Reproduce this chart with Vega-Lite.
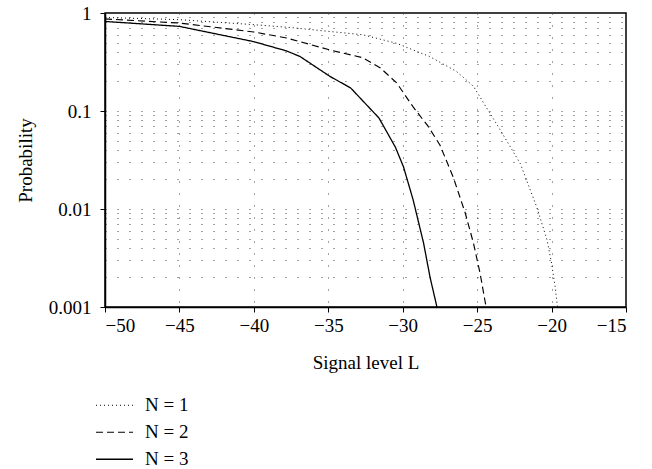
{
  "$schema": "https://vega.github.io/schema/vega-lite/v6.json",
  "width": 521,
  "height": 294,
  "autosize": {"type": "none"},
  "padding": {"left": 105, "top": 13, "right": 26, "bottom": 162},
  "config": {
    "font": "Liberation Serif",
    "view": {"stroke": "black", "strokeWidth": 1.5},
    "axis": {
      "domainColor": "black",
      "domainWidth": 1.5,
      "tickColor": "black",
      "tickSize": 5,
      "tickWidth": 1,
      "labelColor": "black",
      "labelFontSize": 19,
      "labelFont": "Liberation Serif",
      "titleFont": "Liberation Serif",
      "titleFontSize": 19,
      "titleFontWeight": "normal",
      "titleColor": "black",
      "gridColor": "#444",
      "gridDash": [1, 11],
      "gridWidth": 1,
      "gridOpacity": 1
    },
    "legend": {
      "labelFont": "Liberation Serif",
      "labelFontSize": 19,
      "labelColor": "black"
    }
  },
  "data": {
    "values": [
      {"L": -50, "p": 0.90, "series": "N = 1"},
      {"L": -45, "p": 0.855, "series": "N = 1"},
      {"L": -40, "p": 0.76, "series": "N = 1"},
      {"L": -37.5, "p": 0.71, "series": "N = 1"},
      {"L": -35, "p": 0.65, "series": "N = 1"},
      {"L": -32.7, "p": 0.60, "series": "N = 1"},
      {"L": -30.4, "p": 0.49, "series": "N = 1"},
      {"L": -28.2, "p": 0.36, "series": "N = 1"},
      {"L": -26.4, "p": 0.254, "series": "N = 1"},
      {"L": -25.25, "p": 0.179, "series": "N = 1"},
      {"L": -24.4, "p": 0.11, "series": "N = 1"},
      {"L": -23.5, "p": 0.066, "series": "N = 1"},
      {"L": -22.1, "p": 0.029, "series": "N = 1"},
      {"L": -21.0, "p": 0.0105, "series": "N = 1"},
      {"L": -20.3, "p": 0.0048, "series": "N = 1"},
      {"L": -20.0, "p": 0.0028, "series": "N = 1"},
      {"L": -19.76, "p": 0.0016, "series": "N = 1"},
      {"L": -19.6, "p": 0.001, "series": "N = 1"},
      {"L": -50, "p": 0.87, "series": "N = 2"},
      {"L": -45, "p": 0.79, "series": "N = 2"},
      {"L": -40, "p": 0.64, "series": "N = 2"},
      {"L": -37.8, "p": 0.556, "series": "N = 2"},
      {"L": -34.9, "p": 0.42, "series": "N = 2"},
      {"L": -32.7, "p": 0.35, "series": "N = 2"},
      {"L": -31.5, "p": 0.275, "series": "N = 2"},
      {"L": -30.4, "p": 0.193, "series": "N = 2"},
      {"L": -29.3, "p": 0.11, "series": "N = 2"},
      {"L": -28.3, "p": 0.07, "series": "N = 2"},
      {"L": -27.5, "p": 0.045, "series": "N = 2"},
      {"L": -26.6, "p": 0.021, "series": "N = 2"},
      {"L": -25.8, "p": 0.0091, "series": "N = 2"},
      {"L": -25.25, "p": 0.0045, "series": "N = 2"},
      {"L": -24.8, "p": 0.0022, "series": "N = 2"},
      {"L": -24.4, "p": 0.001, "series": "N = 2"},
      {"L": -50, "p": 0.82, "series": "N = 3"},
      {"L": -45, "p": 0.73, "series": "N = 3"},
      {"L": -40, "p": 0.51, "series": "N = 3"},
      {"L": -37.8, "p": 0.41, "series": "N = 3"},
      {"L": -36.9, "p": 0.36, "series": "N = 3"},
      {"L": -34.9, "p": 0.226, "series": "N = 3"},
      {"L": -33.5, "p": 0.172, "series": "N = 3"},
      {"L": -31.6, "p": 0.085, "series": "N = 3"},
      {"L": -30.5, "p": 0.043, "series": "N = 3"},
      {"L": -29.95, "p": 0.027, "series": "N = 3"},
      {"L": -29.3, "p": 0.0124, "series": "N = 3"},
      {"L": -28.6, "p": 0.0045, "series": "N = 3"},
      {"L": -28.16, "p": 0.002, "series": "N = 3"},
      {"L": -27.7, "p": 0.001, "series": "N = 3"}
    ]
  },
  "mark": {"type": "line", "color": "black", "clip": true},
  "encoding": {
    "x": {
      "field": "L",
      "type": "quantitative",
      "scale": {"domain": [-50, -15], "nice": false, "zero": false},
      "axis": {
        "title": "Signal level L",
        "values": [-50, -45, -40, -35, -30, -25, -20, -15],
        "format": "d",
        "labelPadding": 4,
        "titlePadding": 18,
        "grid": true
      }
    },
    "y": {
      "field": "p",
      "type": "quantitative",
      "scale": {"type": "log", "domain": [0.001, 1], "nice": false},
      "axis": {
        "title": "Probability",
        "values": [0.001, 0.002, 0.003, 0.004, 0.005, 0.006, 0.007, 0.008, 0.009, 0.01, 0.02, 0.03, 0.04, 0.05, 0.06, 0.07, 0.08, 0.09, 0.1, 0.2, 0.3, 0.4, 0.5, 0.6, 0.7, 0.8, 0.9, 1],
        "labelExpr": "indexof([0.001, 0.01, 0.1, 1], datum.value) >= 0 ? format(datum.value, '~g') : ''",
        "labelOverlap": false,
        "labelBound": false,
        "labelPadding": 9,
        "tickOpacity": {"condition": {"test": "indexof([0.001, 0.01, 0.1, 1], datum.value) >= 0", "value": 1}, "value": 0},
        "titlePadding": 13,
        "grid": true
      }
    },
    "strokeDash": {
      "field": "series",
      "type": "nominal",
      "scale": {"domain": ["N = 1", "N = 2", "N = 3"], "range": [[1, 3], [7, 4], [1, 0]]},
      "legend": {
        "title": null,
        "orient": "none",
        "legendX": -10,
        "legendY": 379,
        "symbolType": "stroke",
        "symbolSize": 1369,
        "symbolStrokeColor": "black",
        "symbolStrokeWidth": 1.3,
        "clipHeight": 26.5,
        "rowPadding": 0,
        "labelOffset": 11
      }
    },
    "strokeWidth": {
      "field": "series",
      "type": "ordinal",
      "scale": {"domain": ["N = 1", "N = 2", "N = 3"], "range": [1, 1.3, 1.6]},
      "legend": null
    }
  }
}
